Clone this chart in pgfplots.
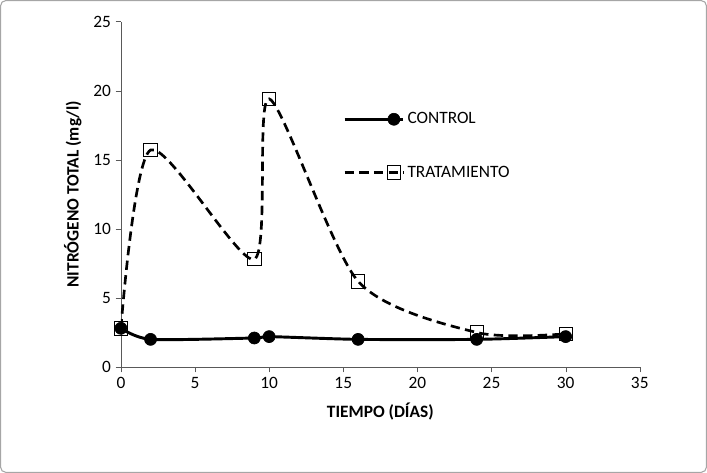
\documentclass[border=0pt]{standalone}
\usepackage{pgfplots}
\pgfplotsset{compat=1.18}
\usepackage{fontspec}
\setmainfont{Carlito}
\begin{document}
\begin{tikzpicture}
\draw[gray!70,line width=0.8pt,rounded corners=4pt] (0.5pt,0.5pt) rectangle (529.75pt,354.25pt);
\begin{axis}[at={(90.75pt,79.5pt)},anchor=south west,scale only axis,
 width=389pt,height=259pt,xmin=0,xmax=35,ymin=0,ymax=25,
 axis lines=left,axis line style={-,gray!70!black},
 xtick={0,5,...,35},ytick={0,5,...,25},tick align=outside,
 major tick length=4pt,tick style={gray!70!black},
 ticklabel style={font=\fontsize{13}{15}\selectfont},
 /pgf/number format/assume math mode=true,
 xlabel={\textbf{TIEMPO (DÍAS)}},ylabel={\textbf{NITRÓGENO TOTAL (mg/l)}},
 label style={font=\fontsize{13}{15}\selectfont},
 xlabel style={yshift=-4pt},ylabel style={yshift=2pt},
 legend style={draw=none,fill=none,at={(0.42,0.64)},anchor=west,
   font=\fontsize{13}{15}\selectfont,row sep=26pt},
 legend cell align=left,
 legend image code/.code={\draw[#1] (0cm,0cm) -- (1.55cm,0cm);\draw[#1,only marks] plot coordinates {(1.3cm,0cm)};}]
\addplot[black,line width=2.2pt,smooth,tension=0.4,mark=*,mark size=4.5pt,mark options={solid,line width=0.5pt}] coordinates
 {(0,2.8)(2,2.0)(9,2.1)(10,2.2)(16,2.0)(24,2.0)(30,2.2)};
\addlegendentry{CONTROL}
\addplot[black,line width=2pt,dash pattern=on 7pt off 4pt,smooth,tension=0.45,mark=square,mark size=5pt,mark options={solid,fill=white,line width=0.6pt}] coordinates
 {(0,2.8)(2,15.7)(9,7.8)(10,19.4)(16,6.2)(24,2.5)(30,2.4)};
\addlegendentry{TRATAMIENTO}
\end{axis}
\end{tikzpicture}
\end{document}
